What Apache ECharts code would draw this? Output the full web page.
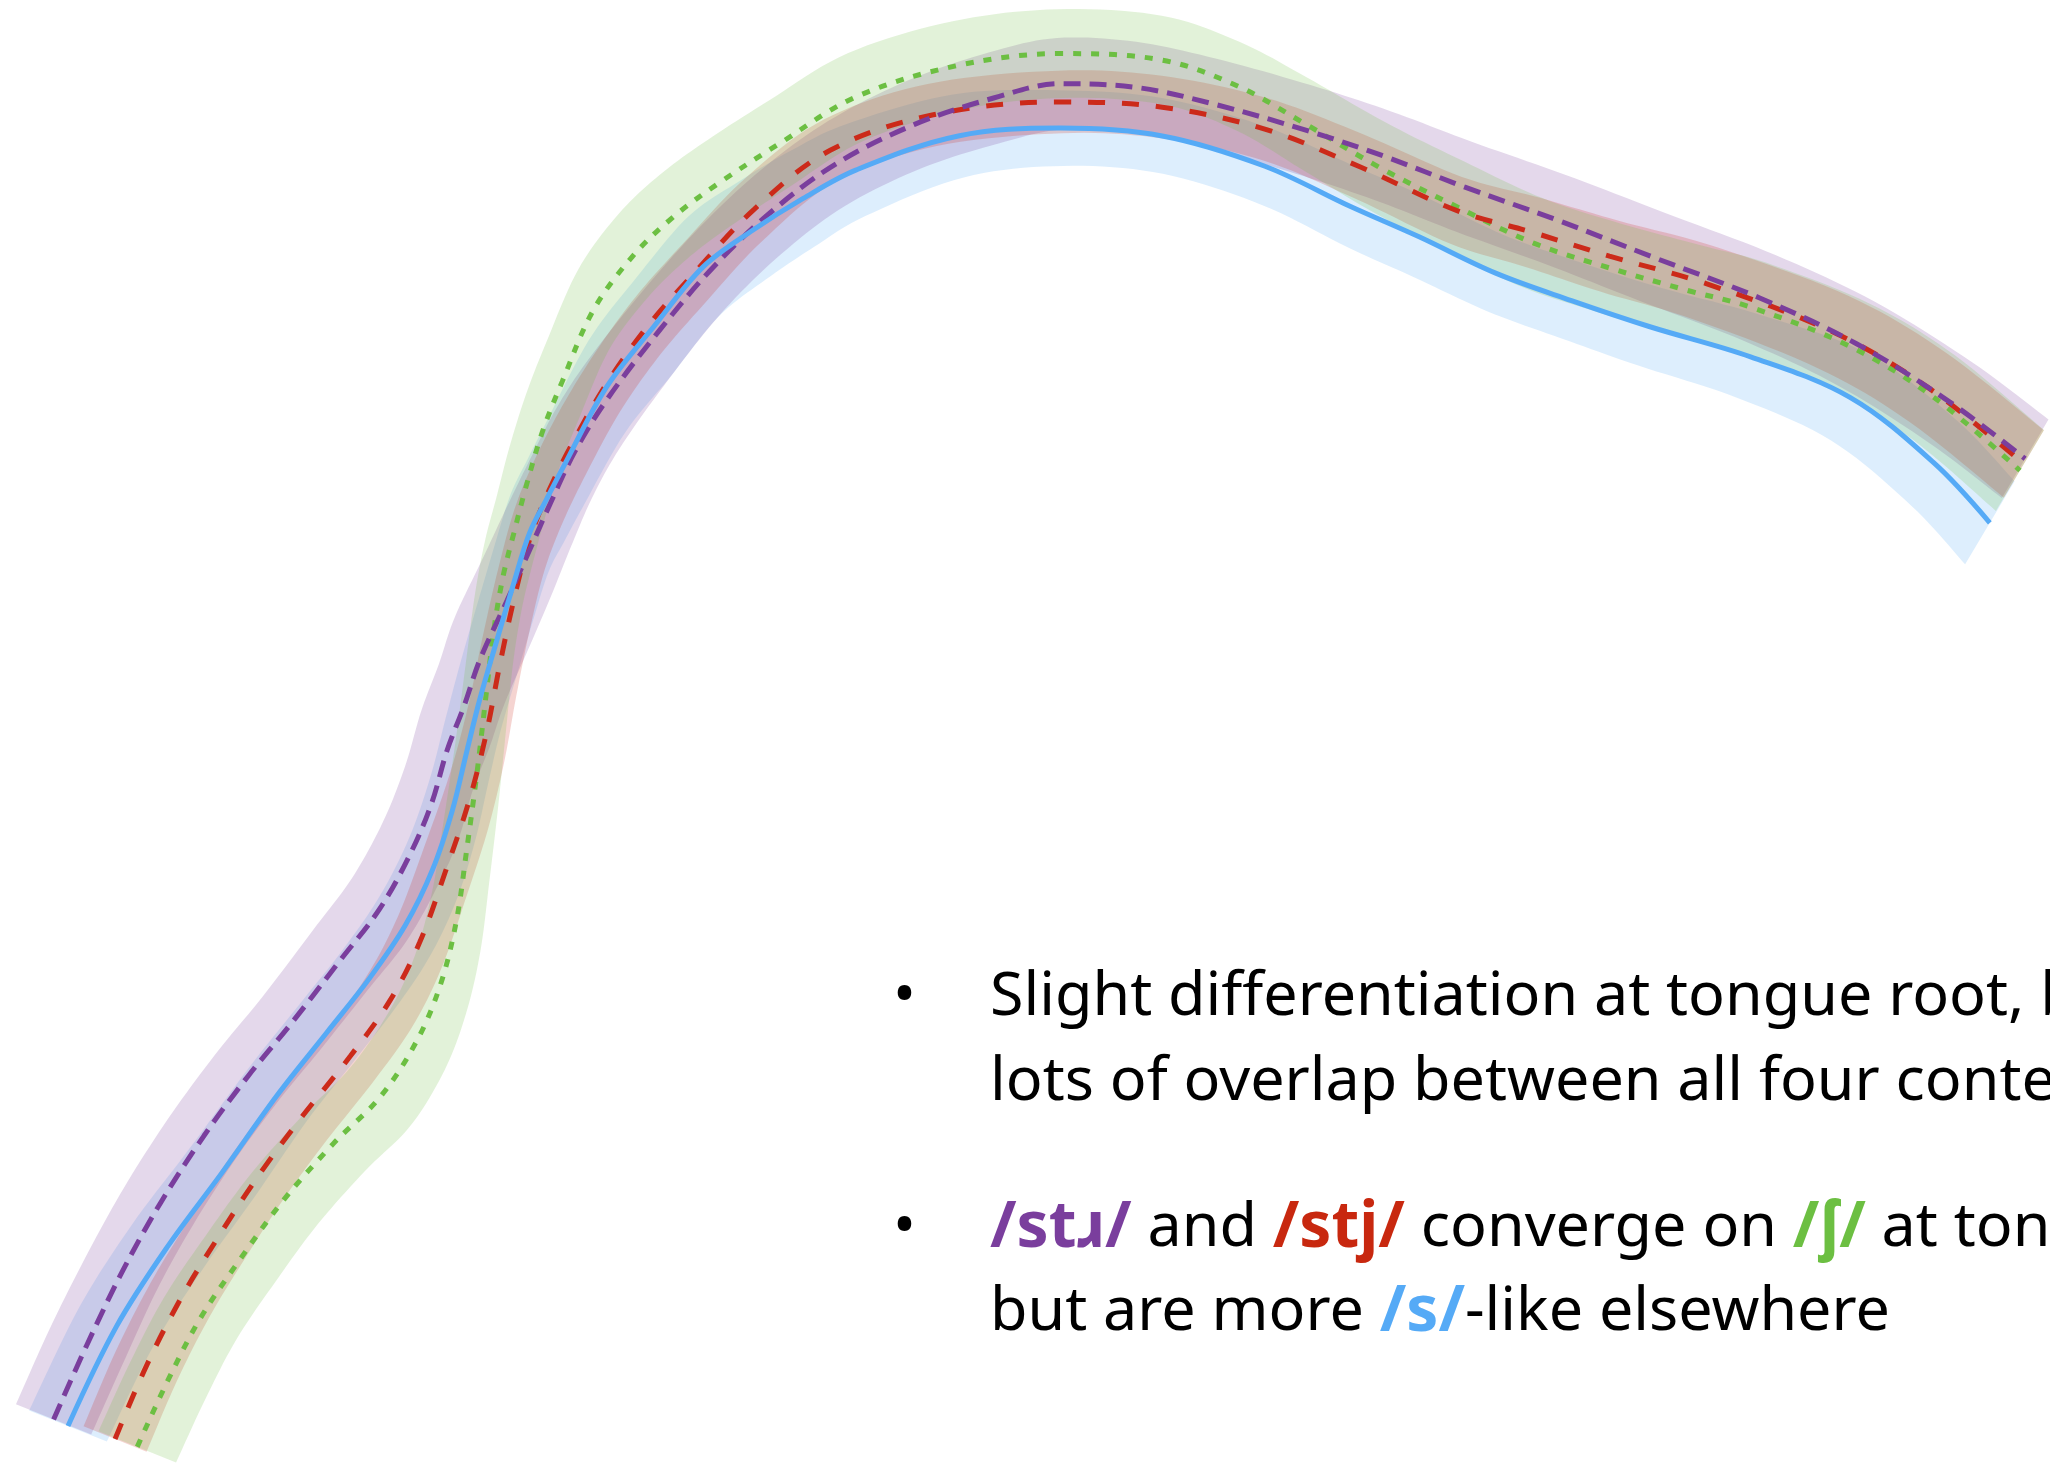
<!DOCTYPE html>
<html>
<head>
<meta charset="utf-8">
<script src="https://cdn.jsdelivr.net/npm/echarts@6/dist/echarts.min.js"></script>
<style>
html,body{margin:0;padding:0;background:#ffffff;overflow:hidden}
#chart{width:2050px;height:1473px}
</style>
</head>
<body>
<div id="chart"></div>
<script>
// Tongue contours (probe origin at 0,0), mean line points [x, y] and radial CI half-widths
const S_LINE = [[-85.6,34.2],[-81.9,41.8],[-78.0,47.9],[-73.8,53.6],[-69.6,59.5],[-65.8,64.3],[-62.5,68.5],[-59.8,72.5],[-57.7,76.8],[-56.2,81.3],[-55.1,85.8],[-54.1,89.8],[-52.8,94.3],[-51.5,98.7],[-50.3,102.5],[-49.0,105.1],[-47.7,107.6],[-44.4,113.7],[-40.8,118.3],[-37.0,122.9],[-33.2,125.7],[-29.4,128.1],[-25.3,130.3],[-17.5,132.9],[-9.7,133.5],[-1.9,132.9],[5.9,130.6],[12.5,127.5],[17.7,125.2],[23.6,122.4],[29.4,120.3],[35.4,118.3],[43.1,116.0],[50.7,112.9],[57.1,107.9],[61.4,103.3]];
const S_HALF = [3.2,3.2,3.2,3.1,3.0,3.0,3.0,3.0,3.0,3.0,3.0,3.0,3.1,3.2,3.3,3.4,3.5,3.8,4.0,4.0,3.9,3.8,3.6,3.2,2.9,2.9,3.0,3.1,3.1,3.0,3.0,3.1,3.3,3.6,3.7,3.7];

const STR_LINE = [[-86.7,34.7],[-84.2,40.3],[-81.4,46.1],[-78.5,51.3],[-75.2,56.4],[-71.8,61.0],[-68.6,64.9],[-64.8,69.8],[-61.8,73.7],[-59.5,77.8],[-57.8,81.8],[-56.6,85.9],[-55.3,89.3],[-54.1,92.8],[-52.0,97.4],[-50.3,101.2],[-48.7,104.8],[-46.8,108.8],[-44.4,112.7],[-40.3,118.1],[-36.3,122.8],[-31.8,127.1],[-26.8,130.8],[-20.8,133.8],[-14.8,135.8],[-9.7,136.9],[-3.8,136.6],[2.2,135.3],[9.2,133.3],[15.2,131.3],[21.2,129.0],[28.2,126.5],[35.7,123.6],[43.8,120.5],[51.2,117.0],[58.4,112.5],[64.1,108.2]];
const STR_HALF = [3.1,3.1,3.0,3.0,3.0,3.0,3.0,3.1,3.2,3.3,3.5,3.6,3.7,3.8,3.8,3.8,3.7,3.6,3.5,3.4,3.3,3.3,3.3,3.4,3.5,3.5,3.5,3.5,3.5,3.5,3.5,3.5,3.5,3.5,3.5,3.5,3.5];

const STJ_LINE = [[-82.0,33.2],[-79.6,38.8],[-77.0,43.9],[-74.2,48.5],[-71.2,53.1],[-67.9,57.6],[-64.0,62.5],[-61.0,66.7],[-58.7,71.2],[-56.6,77.0],[-54.9,82.1],[-53.6,87.2],[-52.6,92.3],[-51.5,97.4],[-50.3,102.0],[-48.8,105.8],[-46.8,109.8],[-44.3,114.1],[-41.3,118.3],[-37.8,122.3],[-33.1,127.3],[-27.3,131.8],[-19.5,134.5],[-9.7,135.5],[-1.9,135.1],[6.0,133.4],[13.3,130.5],[20.6,127.2],[26.5,125.5],[32.3,123.7],[39.7,121.6],[49.4,117.9],[56.6,113.7],[64.0,107.8]];
const STJ_HALF = [2.6,2.6,2.6,2.6,2.6,2.6,2.6,2.6,2.6,2.6,2.6,2.6,2.6,2.6,2.6,2.6,2.6,2.5,2.5,2.5,2.5,2.4,2.4,2.4,2.4,2.4,2.5,2.6,2.7,2.8,2.9,3.0,3.0,3.0];

const SH_LINE = [[-80.3,32.6],[-78.0,37.6],[-75.5,42.4],[-72.4,47.0],[-69.1,51.5],[-65.3,55.8],[-61.7,59.4],[-58.9,63.7],[-57.1,68.0],[-55.9,72.8],[-55.1,78.3],[-54.3,84.3],[-53.6,90.3],[-53.0,95.3],[-52.3,99.3],[-51.5,102.5],[-50.5,106.3],[-49.3,110.3],[-47.8,114.1],[-45.4,119.6],[-42.4,123.7],[-39.3,126.7],[-35.8,129.3],[-31.2,132.3],[-25.3,135.9],[-17.5,138.3],[-9.7,139.2],[-1.9,138.7],[3.9,136.7],[8.9,133.9],[14.7,130.5],[20.6,127.5],[26.5,124.7],[32.3,122.8],[38.2,121.1],[43.1,119.8],[50.7,116.8],[57.1,112.9],[63.7,107.3]];
const SH_HALF = [3.2,3.2,3.2,3.2,3.2,3.2,3.2,3.1,3.0,3.0,3.0,3.0,3.0,3.0,3.0,3.0,3.1,3.1,3.2,3.3,3.4,3.4,3.4,3.4,3.4,3.4,3.4,3.4,3.4,3.5,3.5,3.5,3.5,3.5,3.6,3.6,3.6,3.6,3.6];

const COLORS = { s: '#55aaf6', str: '#7a3e9d', stj: '#cc2a1a', sh: '#6cbf42' };
const BAND_ALPHA = 0.2;

function rgba(hex, a) {
  const n = parseInt(hex.slice(1), 16);
  return 'rgba(' + ((n >> 16) & 255) + ',' + ((n >> 8) & 255) + ',' + (n & 255) + ',' + a + ')';
}

// band edges: mean contour +/- half-width along the ray from the probe origin
function bandEdges(line, half) {
  const outer = [], inner = [];
  line.forEach(function (p, i) {
    const r = Math.hypot(p[0], p[1]);
    const ko = (r + half[i]) / r, ki = (r - half[i]) / r;
    outer.push([p[0] * ko, p[1] * ko]);
    inner.push([p[0] * ki, p[1] * ki]);
  });
  return { outer: outer, inner: inner };
}

// Catmull-Rom smoothing of an on-screen outline (rendering only)
function spline(pts, steps) {
  const out = [];
  const n = pts.length;
  for (let i = 0; i < n - 1; i++) {
    const p0 = pts[Math.max(i - 1, 0)], p1 = pts[i], p2 = pts[i + 1], p3 = pts[Math.min(i + 2, n - 1)];
    for (let s = 0; s < steps; s++) {
      const t = s / steps, t2 = t * t, t3 = t2 * t;
      out.push([
        0.5 * (2 * p1[0] + (-p0[0] + p2[0]) * t + (2 * p0[0] - 5 * p1[0] + 4 * p2[0] - p3[0]) * t2 + (-p0[0] + 3 * p1[0] - 3 * p2[0] + p3[0]) * t3),
        0.5 * (2 * p1[1] + (-p0[1] + p2[1]) * t + (2 * p0[1] - 5 * p1[1] + 4 * p2[1] - p3[1]) * t2 + (-p0[1] + 3 * p1[1] - 3 * p2[1] + p3[1]) * t3)
      ]);
    }
  }
  out.push(pts[n - 1]);
  return out;
}

function bandSeries(name, line, half, color) {
  const e = bandEdges(line, half);
  return {
    type: 'custom', name: name + ' CI', silent: true, z: 1,
    data: [[0, 0]],
    renderItem: function (params, api) {
      const o = spline(e.outer.map(function (q) { return api.coord(q); }), 10);
      const inn = spline(e.inner.map(function (q) { return api.coord(q); }), 10);
      return {
        type: 'polygon',
        shape: { points: o.concat(inn.reverse()) },
        style: { fill: rgba(color, BAND_ALPHA) }
      };
    }
  };
}

function lineSeries(name, line, color, dash) {
  return {
    type: 'line', name: name, data: line, smooth: 0.35, symbol: 'none', silent: true, z: 3,
    lineStyle: { color: color, width: 5, type: dash, cap: 'butt' }
  };
}

const chart = echarts.init(document.getElementById('chart'), null, { renderer: 'canvas' });

const FONT = 'Noto Sans';
const FS = 61, FSB = 64;
const rich = {
  p: { fill: COLORS.str, fontWeight: 'bold', fontSize: FSB, fontFamily: FONT },
  r: { fill: '#c8280f', fontWeight: 'bold', fontSize: FSB, fontFamily: FONT },
  g: { fill: COLORS.sh, fontWeight: 'bold', fontSize: FSB, fontFamily: FONT },
  b: { fill: COLORS.s, fontWeight: 'bold', fontSize: FSB, fontFamily: FONT }
};
function txt(x, y, s) {
  return { type: 'text', x: x, y: y, silent: true,
    style: { text: s, fontSize: FS, fontFamily: FONT, fill: '#000000', verticalAlign: 'middle', align: 'left', rich: rich } };
}

chart.setOption({
  animation: false,
  backgroundColor: '#ffffff',
  grid: { left: 0, right: 0, top: 0, bottom: 0, containLabel: false },
  xAxis: { type: 'value', min: -90.8, max: 66.0, show: false },
  yAxis: { type: 'value', min: 30.6, max: 143.3, show: false },
  series: [
    bandSeries('/s/', S_LINE, S_HALF, COLORS.s),
    bandSeries('/stɹ/', STR_LINE, STR_HALF, COLORS.str),
    bandSeries('/stj/', STJ_LINE, STJ_HALF, COLORS.stj),
    bandSeries('/ʃ/', SH_LINE, SH_HALF, COLORS.sh),
    lineSeries('/ʃ/', SH_LINE, COLORS.sh, [8, 10]),
    lineSeries('/stj/', STJ_LINE, COLORS.stj, [17, 17]),
    lineSeries('/stɹ/', STR_LINE, COLORS.str, [17, 9]),
    lineSeries('/s/', S_LINE, COLORS.s, 'solid')
  ],
  graphic: [
    txt(893, 998, '•'),
    txt(990, 998, 'Slight differentiation at tongue root, but'),
    txt(990, 1083, 'lots of overlap between all four contexts'),
    txt(893, 1229, '•'),
    txt(990, 1229, '{p|/stɹ/} and {r|/stj/} converge on {g|/ʃ/} at tongue tip'),
    txt(990, 1313, 'but are more {b|/s/}-like elsewhere')
  ]
});
</script>
</body>
</html>
